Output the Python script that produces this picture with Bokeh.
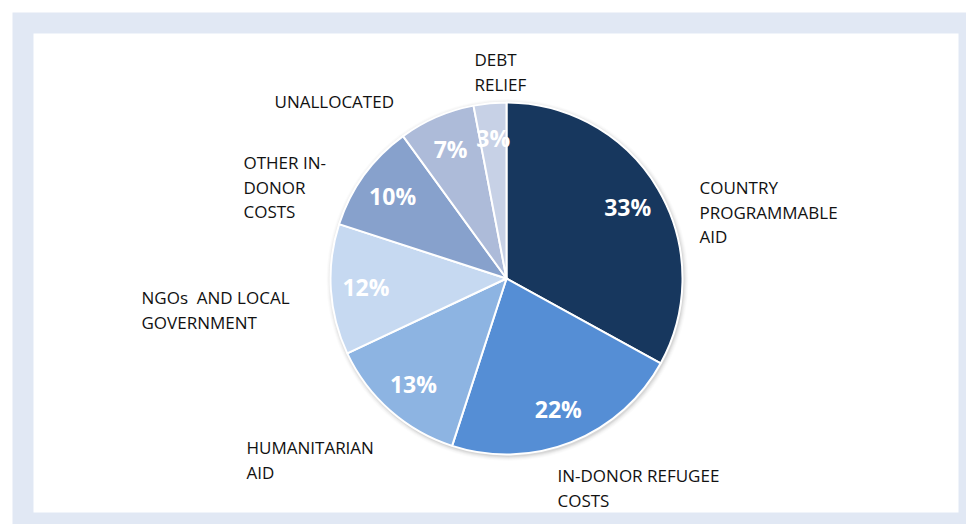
import numpy as np
from bokeh.plotting import figure
from bokeh.models import Range1d, ColumnDataSource
from bokeh.core.properties import value
from bokeh.embed import file_html
from bokeh.resources import INLINE

# ---- data ----
categories = ["COUNTRY PROGRAMMABLE AID", "IN-DONOR REFUGEE COSTS", "HUMANITARIAN AID",
              "NGOs  AND LOCAL GOVERNMENT", "OTHER IN-DONOR COSTS", "UNALLOCATED", "DEBT RELIEF"]
shares = [33, 22, 13, 12, 10, 7, 3]
pct_labels = ["33%", "22%", "13%", "12%", "10%", "7%", "3%"]
label_lines = [["COUNTRY", "PROGRAMMABLE", "AID"],
               ["IN-DONOR REFUGEE", "COSTS"],
               ["HUMANITARIAN", "AID"],
               ["NGOs\u00a0 AND LOCAL", "GOVERNMENT"],
               ["OTHER IN-", "DONOR", "COSTS"],
               ["UNALLOCATED"],
               ["DEBT", "RELIEF"]]

# ---- styles / layout ----
colors = ["#17375E", "#558ED5", "#8DB4E2", "#C6D9F1", "#87A1CC", "#ADBBD9", "#C7D1E6"]
label_anchor = [(699, 187), (557, 475), (246, 447), (141, 297), (243, 162), (274, 101), (474, 59)]
LINE_H = 24.5
CX, CY, R = 506, 278, 176
W, H = 966, 524


def Y(s):
    return H - s


p = figure(width=W, height=H, output_backend="svg", toolbar_location=None,
           x_range=Range1d(0, W), y_range=Range1d(0, H), min_border=0)
p.axis.visible = False
p.grid.visible = False
p.outline_line_color = None
p.background_fill_color = "white"
p.border_fill_color = "white"

# frame
p.quad(left=[12], right=[W], top=[Y(12)], bottom=[Y(H)], fill_color="#E1E8F4", line_color=None)
p.quad(left=[33], right=[958], top=[Y(33)], bottom=[Y(512)], fill_color="white", line_color=None)

# shadow
for i, a in enumerate([0.05, 0.04, 0.03, 0.02, 0.015]):
    p.circle(x=[CX + 1], y=[Y(CY) - 1.5], radius=R + 1 + i, fill_color="#000000",
             fill_alpha=a, line_color=None)
p.circle(x=[CX], y=[Y(CY)], radius=R, fill_color="white", line_color=None)

vals = np.array(shares, dtype=float)
frac = vals / vals.sum()
cum_end = np.cumsum(frac)
cum_start = cum_end - frac
start = np.pi / 2 - 2 * np.pi * cum_start
end = np.pi / 2 - 2 * np.pi * cum_end
mid = (start + end) / 2

src = ColumnDataSource(dict(start=start, end=end, color=colors, cat=categories))
p.wedge(x=CX, y=Y(CY), radius=R, start_angle="start", end_angle="end", direction="clock",
        fill_color="color", line_color="white", line_width=2, source=src)

# percentage labels
rl = 0.8 * R
p.text(x=CX + rl * np.cos(mid), y=Y(CY) + rl * np.sin(mid), text=pct_labels,
       text_color="white", text_font=value("Open Sans"), text_font_style="bold",
       text_font_size="23px", text_align="center", text_baseline="middle")

# category labels
xs, ys, ts = [], [], []
for (ax, ay), lines in zip(label_anchor, label_lines):
    for k, t in enumerate(lines):
        xs.append(ax)
        ys.append(Y(ay + k * LINE_H))
        ts.append(t)
p.text(x=xs, y=ys, text=ts, text_color="#111111", text_font=value("Open Sans"),
       text_font_size="17px", text_align="left", text_baseline="middle")

open("out.html", "w").write(file_html(p, INLINE))
